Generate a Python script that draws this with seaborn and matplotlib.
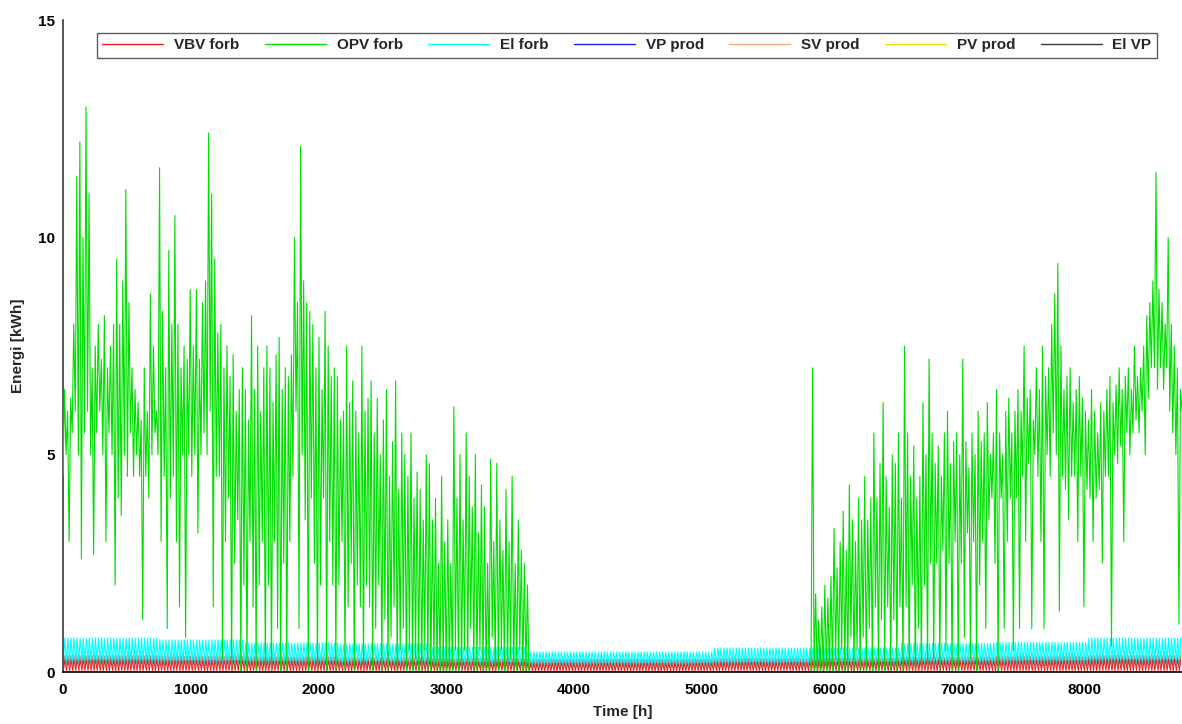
import numpy as np
import pandas as pd
import matplotlib
matplotlib.use("Agg")
import matplotlib.pyplot as plt
import seaborn as sns

# ---------------- data ----------------
# OPV forb: daily high and daily low, winter/spring part (days 0..151)
opv_spring_high = [
    6.5, 6.0, 6.3, 8.0, 11.4, 12.2, 10.0, 13.0, 11.0, 7.0,
    7.5, 8.0, 7.2, 8.2, 7.0, 7.5, 8.0, 9.5, 8.0, 9.0,
    11.1, 8.5, 7.0, 6.5, 6.2, 5.8, 7.0, 6.0, 8.7, 7.5,
    6.0, 11.6, 8.3, 7.0, 9.7, 8.0, 10.5, 8.0, 7.0, 7.5,
    7.2, 8.8, 7.5, 8.8, 7.2, 8.5, 9.0, 12.4, 11.0, 9.5,
    7.8, 8.0, 7.0, 7.5, 6.8, 7.3, 6.0, 6.5, 7.0, 6.5,
    5.8, 8.2, 6.5, 7.5, 6.0, 7.0, 7.5, 7.0, 6.2, 7.3,
    7.7, 6.5, 7.0, 6.8, 7.3, 10.0, 8.5, 12.1, 9.0, 8.5,
    8.3, 8.0, 7.0, 7.7, 6.5, 8.3, 7.5, 6.8, 7.0, 6.8,
    5.8, 6.0, 7.5, 6.2, 6.7, 6.0, 5.5, 7.5, 6.0, 6.3,
    6.7, 5.5, 6.3, 5.0, 5.8, 6.5, 4.5, 5.3, 6.7, 4.2,
    5.5, 5.0, 4.5, 5.5, 4.0, 4.6, 4.2, 3.5, 5.0, 4.8,
    3.5, 4.0, 2.5, 4.5, 3.0, 3.5, 2.5, 6.1, 4.0, 5.0,
    3.5, 5.5, 4.5, 3.8, 5.0, 3.2, 4.3, 3.8, 2.5, 4.9,
    3.0, 4.8, 3.5, 2.8, 4.2, 3.0, 4.5, 2.5, 3.5, 2.8,
    2.5, 2.0,
]
opv_spring_low = [
    4.5, 5.0, 3.0, 5.5, 6.0, 5.0, 2.6, 5.5, 6.0, 5.0,
    2.7, 5.5, 6.0, 5.0, 3.0, 5.5, 5.0, 2.0, 4.0, 3.6,
    5.0, 4.5, 5.5, 4.5, 5.0, 4.5, 1.2, 4.5, 4.0, 5.0,
    5.5, 5.0, 3.0, 4.5, 1.0, 4.0, 4.5, 3.0, 1.5, 5.0,
    0.8, 5.0, 4.5, 5.0, 3.2, 5.0, 5.5, 5.0, 6.0, 1.5,
    4.5, 4.5, 0.3, 3.0, 4.0, 0.0, 2.5, 3.5, 0.0, 2.0,
    0.0, 3.0, 1.5, 0.0, 2.0, 3.0, 0.0, 2.0, 0.0, 3.0,
    1.0, 0.0, 2.5, 0.0, 3.0, 4.5, 6.0, 1.0, 5.0, 3.5,
    0.0, 4.0, 2.5, 0.0, 2.0, 4.0, 0.0, 3.0, 2.0, 0.0,
    2.0, 3.0, 0.0, 1.5, 2.5, 0.0, 2.0, 1.5, 0.0, 2.0,
    1.5, 0.0, 1.0, 2.0, 0.0, 1.2, 0.0, 0.8, 1.5, 0.0,
    0.5, 1.0, 0.0, 0.5, 0.0, 0.3, 0.0, 0.0, 0.5, 0.0,
    0.0, 0.2, 0.0, 0.0, 0.0, 0.0, 0.0, 0.0, 0.5, 0.0,
    0.0, 0.5, 0.0, 1.0, 0.0, 0.0, 0.5, 0.0, 0.0, 0.0,
    0.8, 0.0, 0.0, 0.5, 0.0, 0.0, 0.3, 0.0, 0.0, 0.5,
    0.0, 0.0,
]
# autumn/winter part (days 243..365)
opv_autumn_first_day = 243
opv_autumn_high = [
    0.0, 7.0, 1.8, 1.2, 1.5, 2.0, 1.7, 2.2, 3.3, 2.4,
    3.0, 3.7, 2.8, 4.3, 3.5, 3.0, 4.0, 3.5, 4.5, 3.5,
    4.0, 5.5, 4.0, 4.8, 6.2, 4.5, 3.8, 5.0, 4.8, 5.5,
    4.0, 7.5, 5.5, 4.5, 5.2, 4.0, 4.5, 6.2, 5.0, 7.2,
    5.5, 4.8, 5.2, 4.5, 5.5, 6.0, 4.8, 5.3, 5.5, 5.0,
    7.2, 5.3, 4.7, 5.5, 5.0, 6.0, 5.3, 5.5, 6.2, 5.0,
    5.5, 6.5, 5.5, 5.0, 6.0, 6.3, 5.5, 6.0, 6.5, 6.0,
    7.5, 6.3, 6.5, 5.8, 7.0, 6.5, 7.5, 6.8, 7.0, 8.0,
    8.7, 9.4, 7.5, 6.5, 6.8, 7.0, 6.2, 6.5, 6.8, 6.3,
    6.0, 5.8, 6.5, 6.0, 5.5, 6.2, 6.0, 6.5, 6.8, 6.2,
    6.6, 7.0, 6.5, 6.8, 7.0, 6.5, 7.5, 6.8, 7.0, 7.5,
    8.2, 8.5, 9.0, 11.5, 8.8, 8.5, 8.0, 10.0, 8.0, 7.5,
    7.0, 6.5, 6.2,
]
opv_autumn_low = [
    0.0, 0.0, 0.0, 0.0, 0.0, 0.0, 0.0, 0.0, 0.0, 0.3,
    0.0, 0.5, 0.0, 0.0, 0.8, 0.0, 0.5, 0.0, 0.8, 0.0,
    1.0, 0.0, 1.5, 0.0, 1.2, 0.0, 1.5, 0.0, 1.2, 0.0,
    1.5, 0.0, 1.5, 0.0, 2.0, 0.0, 1.0, 0.0, 2.0, 0.0,
    2.5, 0.3, 2.5, 0.0, 2.8, 0.5, 2.5, 0.0, 3.0, 0.0,
    2.5, 0.8, 3.2, 0.3, 3.0, 0.0, 2.0, 3.0, 1.0, 3.5,
    4.0, 2.5, 0.0, 4.0, 1.0, 3.0, 4.0, 0.5, 4.0, 1.0,
    4.5, 3.0, 4.8, 1.0, 5.0, 4.5, 3.0, 1.0, 5.0, 4.5,
    5.5, 5.0, 1.4, 4.5, 4.2, 3.5, 4.5, 4.5, 3.0, 4.5,
    1.5, 4.2, 4.0, 3.0, 4.0, 4.2, 2.5, 4.5, 4.5, 0.6,
    5.0, 4.8, 5.2, 3.0, 5.5, 5.0, 5.5, 5.8, 5.5, 6.0,
    5.0, 6.3, 7.0, 7.0, 6.5, 7.0, 6.5, 7.0, 6.0, 5.5,
    5.0, 1.1, 6.0,
]

# small series: monthly daily-peak / daily-low readings
month_days = [31, 28, 31, 30, 31, 30, 31, 31, 30, 31, 30, 31]
elforb_peak = [0.78, 0.74, 0.67, 0.65, 0.57, 0.46, 0.46, 0.55, 0.55, 0.66, 0.68, 0.78]
elforb_low = [0.22, 0.22, 0.21, 0.20, 0.19, 0.18, 0.18, 0.19, 0.19, 0.20, 0.22, 0.22]
vbv_peak = [0.28, 0.27, 0.26, 0.25, 0.23, 0.21, 0.21, 0.23, 0.24, 0.26, 0.27, 0.29]
vbv_low = [0.03, 0.03, 0.03, 0.03, 0.03, 0.02, 0.02, 0.03, 0.03, 0.03, 0.03, 0.03]
elvp_peak = [0.38, 0.37, 0.35, 0.33, 0.31, 0.29, 0.29, 0.31, 0.32, 0.34, 0.36, 0.38]
elvp_low = [0.14, 0.14, 0.13, 0.12, 0.11, 0.10, 0.10, 0.11, 0.12, 0.13, 0.14, 0.14]
vp_prod_level = [0.0] * 12
sv_prod_level = [0.0] * 12
pv_prod_level = [0.0] * 12

labels = ["VBV forb", "OPV forb", "El forb", "VP prod", "SV prod", "PV prod", "El VP"]
colors = ["#ff1a1a", "#00dd00", "#00ffff", "#2020ee", "#f4a582", "#e6e600", "#3a3a3a"]
zorders = [2.3, 2.8, 2.2, 2.1, 2.1, 2.1, 2.4]

# ---------------- build series ----------------
def zigzag(first_day, highs, lows):
    days = first_day + np.arange(len(highs))
    t = np.empty(2 * len(days)); v = np.empty(2 * len(days))
    t[0::2] = 24 * days
    t[1::2] = 24 * days + 12
    v[0::2] = lows
    v[1::2] = highs
    return t, v

def opv_series():
    t1, v1 = zigzag(0, opv_spring_high, opv_spring_low)
    t2, v2 = zigzag(opv_autumn_first_day, opv_autumn_high, opv_autumn_low)
    t = np.concatenate([t1, [t1[-1] + 12], t2])
    v = np.concatenate([v1, [0.0], v2])
    return t, v

def daily_series(peaks, lows):
    dp = np.repeat(peaks, month_days)
    dl = np.repeat(lows, month_days)
    days = np.arange(len(dp))
    t = np.empty(2 * len(dp)); v = np.empty(2 * len(dp))
    t[0::2] = 24 * days + 4
    t[1::2] = 24 * days + 14
    v[0::2] = dl
    v[1::2] = dp
    return t, v

series = {
    "VBV forb": daily_series(vbv_peak, vbv_low),
    "OPV forb": opv_series(),
    "El forb": daily_series(elforb_peak, elforb_low),
    "VP prod": daily_series(vp_prod_level, vp_prod_level),
    "SV prod": daily_series(sv_prod_level, sv_prod_level),
    "PV prod": daily_series(pv_prod_level, pv_prod_level),
    "El VP": daily_series(elvp_peak, elvp_low),
}

# ---------------- plot ----------------
sns.set_theme(style="white")
plt.rcParams["font.family"] = ["Liberation Sans", "DejaVu Sans"]
plt.rcParams["font.weight"] = "bold"

fig = plt.figure(figsize=(11.82, 7.24), dpi=100)
ax = fig.add_axes([63 / 1182, 52 / 724, 1119 / 1182, 652 / 724])

for lab, col, z in zip(labels, colors, zorders):
    t, v = series[lab]
    df = pd.DataFrame({"Time": t, "Energy": v})
    lw = {"El VP": 0.6, "VBV forb": 0.7}.get(lab, 0.8)
    alpha = 0.5 if lab == "El VP" else 1.0
    sns.lineplot(data=df, x="Time", y="Energy", ax=ax, color=col, lw=lw,
                 alpha=alpha, label=lab, estimator=None, sort=False, zorder=z)

ax.set_xlim(0, 8760)
ax.set_ylim(0, 15)
ax.set_xticks(np.arange(0, 9000, 1000))
ax.set_yticks([0, 5, 10, 15])
ax.tick_params(direction="in", length=4, width=1, labelsize=11, colors="black")
ax.tick_params(axis="x", pad=8)
ax.tick_params(axis="y", pad=6)
for lbl in ax.get_xticklabels() + ax.get_yticklabels():
    lbl.set_fontweight("bold")
ax.set_xlabel("Time [h]", fontsize=11, fontweight="bold", labelpad=6)
ax.set_ylabel("Energi [kWh]", fontsize=11, fontweight="bold", labelpad=9)
for s in ["top", "right"]:
    ax.spines[s].set_visible(False)
ax.spines["left"].set_color("#444444")
ax.spines["bottom"].set_color("black")
ax.spines["bottom"].set_linewidth(1.2)
ax.spines["bottom"].set_zorder(5)

leg = ax.legend(loc="upper left", bbox_to_anchor=(0.0304, 0.934, 0.947, 0.046),
                mode="expand", ncol=7, frameon=True, fancybox=False,
                handlelength=4.0, handletextpad=0.7, borderaxespad=0,
                prop={"size": 11, "weight": "bold"}, borderpad=0.35)
leg.get_frame().set_edgecolor("#333333")
leg.get_frame().set_linewidth(1.0)
for line in leg.get_lines():
    line.set_linewidth(1.0)
    line.set_alpha(1.0)

fig.savefig("out.png", dpi=100)
